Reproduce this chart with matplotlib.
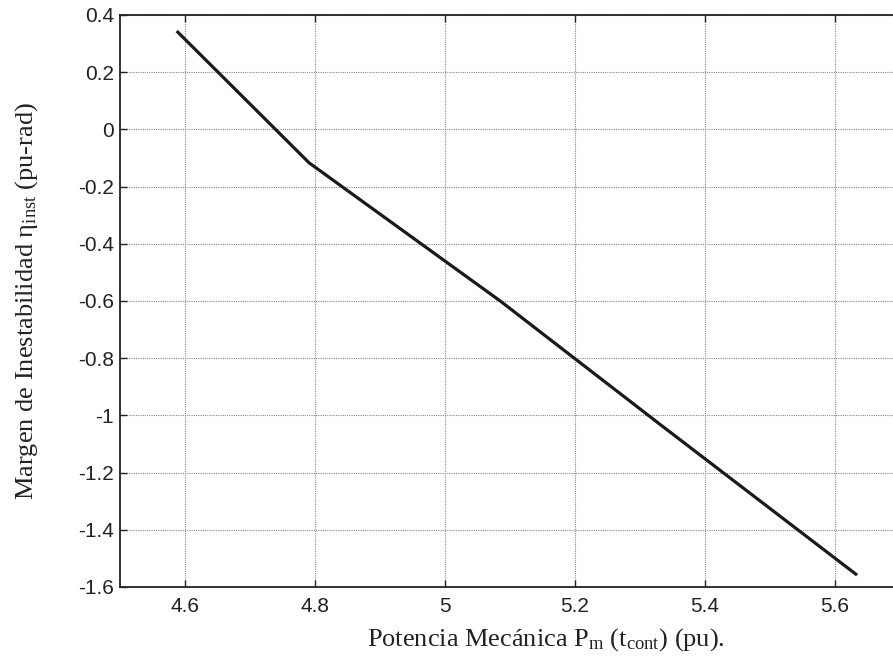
import matplotlib
matplotlib.use("Agg")
import matplotlib.pyplot as plt

# Data
pm = [4.589, 4.791, 5.085, 5.33, 5.632]
eta = [0.340, -0.117, -0.600, -1.030, -1.555]

xticks = [4.6, 4.8, 5.0, 5.2, 5.4, 5.6]
xticklabels = ["4.6", "4.8", "5", "5.2", "5.4", "5.6"]
yticks = [0.4, 0.2, 0, -0.2, -0.4, -0.6, -0.8, -1, -1.2, -1.4, -1.6]
yticklabels = ["0.4", "0.2", "0", "-0.2", "-0.4", "-0.6", "-0.8", "-1", "-1.2", "-1.4", "-1.6"]

plt.rcParams['mathtext.fontset'] = 'custom'
plt.rcParams['mathtext.rm'] = 'Liberation Serif'
plt.rcParams['mathtext.it'] = 'Liberation Serif:italic'

W, H = 893, 663
fig = plt.figure(figsize=(W / 100, H / 100), dpi=100)
left, right, top, bottom = 120, 900, 15, 587
ax = fig.add_axes([left / W, 1 - bottom / H, (right - left) / W, (bottom - top) / H])

ax.plot(pm, eta, color="#1a1a1a", lw=2.3, solid_joinstyle="round")

ax.set_xlim(4.5, 5.7)
ax.set_ylim(-1.6, 0.4)
ax.set_xticks(xticks)
ax.set_xticklabels(xticklabels)
ax.set_yticks(yticks)
ax.set_yticklabels(yticklabels)

for lab in ax.get_xticklabels() + ax.get_yticklabels():
    lab.set_fontfamily("Liberation Sans")
    lab.set_fontsize(15)
    lab.set_color("#222222")

ax.tick_params(direction="in", length=5, width=1, top=True, right=True, colors="#222222")
ax.tick_params(axis="y", pad=4.5)
ax.tick_params(axis="x", pad=7.5)
ax.grid(True, linestyle=(0, (1, 1)), color="#888888", lw=0.8)
for s in ax.spines.values():
    s.set_linewidth(1.3)
    s.set_color("#222222")

ax.set_xlabel("Potencia Mecánica P$_{\\rm m}$ (t$_{\\rm cont}$) (pu).",
              fontfamily="Liberation Serif", fontsize=19, color="#222222")
ax.set_ylabel("Margen de Inestabilidad η$_{\\rm inst}$ (pu-rad)",
              fontfamily="Liberation Serif", fontsize=19, color="#222222")
ax.xaxis.set_label_coords((546 - left) / (right - left), -(640 - bottom) / (bottom - top), transform=ax.transAxes)
ax.yaxis.set_label_coords(-(left - 27) / (right - left), 0.5, transform=ax.transAxes)
ax.xaxis.label.set_va("center")
ax.yaxis.label.set_va("center")

fig.savefig("out.png", dpi=100)
